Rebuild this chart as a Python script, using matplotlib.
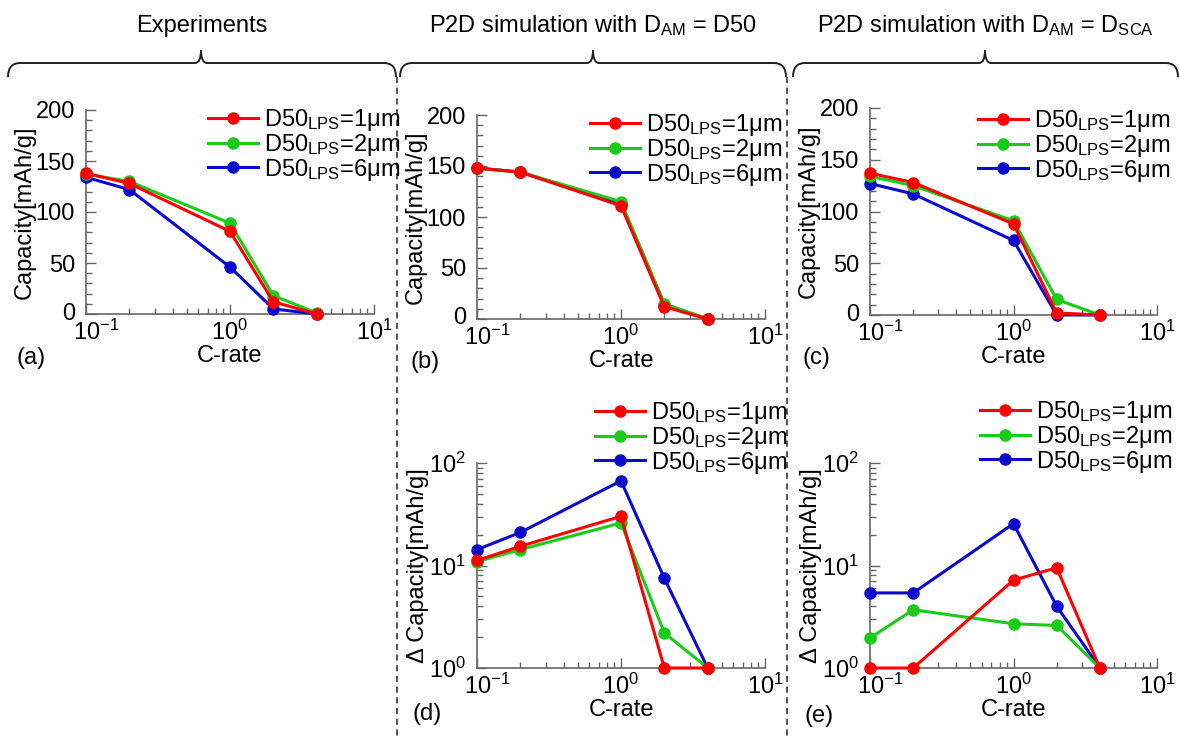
import matplotlib
matplotlib.use("Agg")
import numpy as np
import matplotlib.pyplot as plt
import matplotlib.transforms as mtransforms
from matplotlib.path import Path
from matplotlib.patches import PathPatch
from matplotlib.lines import Line2D
from matplotlib.ticker import MultipleLocator, LogLocator, NullFormatter

plt.rcParams['font.family'] = ['Liberation Sans', 'DejaVu Sans']
plt.rcParams['mathtext.fontset'] = 'custom'
plt.rcParams['mathtext.rm'] = 'Liberation Sans'
plt.rcParams['mathtext.it'] = 'Liberation Sans:italic'
plt.rcParams['mathtext.bf'] = 'Liberation Sans:bold'
FS = 17
plt.rcParams['font.size'] = FS

# ---------------- data ----------------
c_rate = [0.1, 0.2, 1.0, 2.0, 4.0]
series_labels = ["D50$_{\\mathrm{LPS}}$=1μm", "D50$_{\\mathrm{LPS}}$=2μm", "D50$_{\\mathrm{LPS}}$=6μm"]
series_colors = ["#ff0000", "#18cc18", "#0a0acc"]

exp_1um = [138, 128, 81, 12, 0]
exp_2um = [137, 130, 89, 18, 1]
exp_6um = [134, 122, 46, 5, 0]

simd50_1um = [148, 144, 111, 12, 0]
simd50_2um = [148, 144, 115, 15, 0]
simd50_6um = [148, 144, 113, 14, 0]

simsca_1um = [137, 128, 88, 2, 0]
simsca_2um = [134, 125, 91, 15, 0]
simsca_6um = [127, 117, 72, 0, 0]

dcap_d50_1um = [11.2, 15.4, 30.2, 1.0, 1.0]
dcap_d50_2um = [10.9, 14.3, 26.0, 2.2, 1.0]
dcap_d50_6um = [14.3, 21.0, 67.0, 7.5, 1.0]

dcap_sca_1um = [1.0, 1.0, 7.2, 9.5, 1.0]
dcap_sca_2um = [1.96, 3.7, 2.7, 2.6, 1.0]
dcap_sca_6um = [5.4, 5.4, 25.6, 4.0, 1.0]

group_titles = ["Experiments", "P2D simulation with D$_{\\mathrm{AM}}$ = D50",
                "P2D simulation with D$_{\\mathrm{AM}}$ = D$_{\\mathrm{SCA}}$"]
panel_tags = ["(a)", "(b)", "(c)", "(d)", "(e)"]

# ---------------- figure ----------------
W, H = 1180, 738
fig = plt.figure(figsize=(W / 100, H / 100), dpi=100)
ov = fig.add_axes([0, 0, 1, 1])
ov.set_xlim(0, W)
ov.set_ylim(H, 0)
ov.axis('off')


def px_axes(x0, y0, x1, y1):
    return fig.add_axes([x0 / W, (H - y1) / H, (x1 - x0) / W, (y1 - y0) / H])


spine_col = '#666666'


def style_axes(ax, log_y):
    ax.set_xscale('log')
    ax.set_xlim(0.1, 10)
    for s in ['top', 'right']:
        ax.spines[s].set_visible(False)
    for s in ['left', 'bottom']:
        ax.spines[s].set_color(spine_col)
        ax.spines[s].set_linewidth(1.2)
    ax.set_facecolor('none')
    ax.xaxis.set_major_locator(LogLocator(base=10, numticks=5))
    ax.xaxis.set_minor_locator(LogLocator(base=10, subs=range(2, 10), numticks=5))
    ax.xaxis.set_minor_formatter(NullFormatter())
    if log_y:
        ax.set_yscale('log')
        ax.set_ylim(1, 100)
        ax.yaxis.set_major_locator(LogLocator(base=10, numticks=5))
        ax.yaxis.set_minor_locator(LogLocator(base=10, subs=range(2, 10), numticks=5))
        ax.yaxis.set_minor_formatter(NullFormatter())
        ax.set_ylabel("Δ Capacity[mAh/g]", labelpad=0)
    else:
        ax.set_ylim(0, 200)
        ax.yaxis.set_major_locator(MultipleLocator(50))
        ax.yaxis.set_minor_locator(MultipleLocator(10))
        ax.set_ylabel("Capacity[mAh/g]", labelpad=0)
    ax.tick_params(which='major', direction='in', length=7, width=1, color=spine_col, labelsize=FS)
    ax.tick_params(which='minor', direction='in', length=4, width=1, color=spine_col)
    ax.tick_params(axis='x', which='major', pad=4)
    ax.tick_params(axis='y', which='major', pad=8)
    ax.set_xlabel("C-rate", labelpad=0)


def shift_label(lab, dx_px, dy_px):
    lab.set_transform(lab.get_transform() +
                      mtransforms.ScaledTranslation(dx_px / 100, dy_px / 100, fig.dpi_scale_trans))


def nudge_corner_labels(ax, dx_px=10, dy_px=3):
    for loc, tk in zip(ax.get_xticks(), ax.xaxis.get_major_ticks()):
        if np.isclose(loc, 0.1):
            shift_label(tk.label1, dx_px, 0)
    for loc, tk in zip(ax.get_yticks(), ax.yaxis.get_major_ticks()):
        if np.isclose(loc, 0.0):
            shift_label(tk.label1, 0, dy_px)


def plot_series(ax, ys, leg_right, leg_top):
    lines = []
    for y, col in zip(ys, series_colors):
        ln, = ax.plot(c_rate, y, '-o', color=col, lw=2.2, ms=8, clip_on=False)
        lines.append(ln)
    for z, ln in zip([5, 4, 3], lines):
        ln.set_zorder(z)
    handles = [Line2D([0], [0], color=c, lw=2.2, marker='o', ms=8) for c in series_colors]
    ax.legend(handles, series_labels, loc='upper right', frameon=False,
              bbox_to_anchor=(leg_right, leg_top), bbox_transform=ov.transData,
              borderpad=0, handlelength=2.1, handletextpad=0.25,
              labelspacing=-0.05, fontsize=FS, borderaxespad=0)


axA = px_axes(86, 110, 374, 314)
axB = px_axes(477, 115, 765, 319)
axC = px_axes(870, 108, 1157, 315)
axD = px_axes(477, 463, 765, 668)
axE = px_axes(870, 463, 1157, 668)

plot_series(axA, [exp_1um, exp_2um, exp_6um], 400, 107)
plot_series(axB, [simd50_1um, simd50_2um, simd50_6um], 782, 112)
plot_series(axC, [simsca_1um, simsca_2um, simsca_6um], 1170, 108)
plot_series(axD, [dcap_d50_1um, dcap_d50_2um, dcap_d50_6um], 787, 400)
plot_series(axE, [dcap_sca_1um, dcap_sca_2um, dcap_sca_6um], 1172, 399)

all_axes = [axA, axB, axC, axD, axE]
for ax, lg in zip(all_axes, [False, False, False, True, True]):
    style_axes(ax, lg)

fig.canvas.draw()
for ax in all_axes:
    nudge_corner_labels(ax)

# panel tags
for tag, (x, y) in zip(panel_tags, [(17, 358), (410, 362), (802, 358), (412, 714), (805, 716)]):
    ov.text(x, y, tag, ha='left', va='center', fontsize=FS)


# braces
def brace(x0, x1, xm, yb=63, ye=77, yt=50, r=12, t=6):
    verts = [(x0, ye), (x0, yb), (x0 + r, yb),
             (xm - t, yb), (xm, yb), (xm, yt),
             (xm, yb), (xm + t, yb),
             (x1 - r, yb), (x1, yb), (x1, ye)]
    codes = [Path.MOVETO, Path.CURVE3, Path.CURVE3,
             Path.LINETO, Path.CURVE3, Path.CURVE3,
             Path.CURVE3, Path.CURVE3,
             Path.LINETO, Path.CURVE3, Path.CURVE3]
    ov.add_patch(PathPatch(Path(verts, codes), fill=False, lw=1.4, edgecolor='#222222'))


brace(8, 396, 201)
brace(400, 786, 593)
brace(793, 1178, 985)

for title, xc in zip(group_titles, [202, 593, 985]):
    ov.text(xc, 26, title, ha='center', va='center', fontsize=FS)

# dashed separators
for xs in [397, 787]:
    ov.plot([xs, xs], [77, H], ls=(0, (4, 3)), color='#222222', lw=1.1)

fig.savefig("out.png", dpi=100)
